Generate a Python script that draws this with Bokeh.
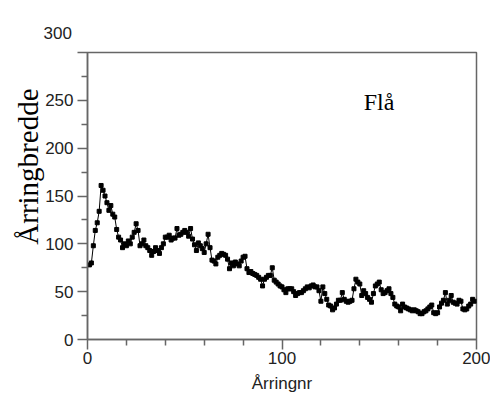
from bokeh.plotting import figure
from bokeh.models import Range1d, FixedTicker, Label, Title
from bokeh.embed import file_html
from bokeh.resources import INLINE

years = list(range(1, 200))
widths = [
    78, 80, 98, 114, 122, 134, 161, 156, 150, 143,
    135, 140, 131, 128, 115, 107, 104, 96, 100, 98,
    103, 100, 107, 112, 121, 114, 98, 100, 104, 98,
    96, 93, 88, 92, 96, 93, 90, 96, 100, 107,
    107, 109, 104, 106, 106, 116, 109, 110, 112, 114,
    112, 108, 116, 105, 99, 93, 101, 98, 95, 91,
    100, 110, 96, 83, 82, 79, 86, 88, 90, 89,
    88, 84, 74, 80, 77, 81, 79, 77, 82, 86,
    87, 74, 70, 71, 69, 68, 67, 65, 63, 56,
    63, 65, 67, 67, 75, 62, 60, 58, 56, 55,
    52, 49, 53, 53, 53, 50, 46, 48, 49, 49,
    51, 53, 55, 54, 56, 57, 55, 55, 51, 40,
    55, 48, 42, 36, 35, 31, 33, 37, 41, 41,
    49, 42, 40, 39, 40, 41, 53, 63, 60, 58,
    46, 51, 48, 44, 42, 39, 48, 56, 58, 60,
    52, 48, 49, 51, 53, 48, 44, 37, 35, 34,
    30, 37, 34, 33, 32, 31, 30, 31, 30, 29,
    27, 27, 29, 30, 32, 34, 36, 28, 27, 28,
    34, 38, 41, 49, 37, 41, 46, 39, 38, 37,
    41, 40, 32, 31, 32, 35, 37, 42, 40,
]
x_major = [0, 100, 200]
x_minor = [20, 40, 60, 80, 120, 140, 160, 180]
y_major = [0, 50, 100, 150, 200, 250, 300]
y_minor = [25, 75, 125, 175, 225, 275]

p = figure(width=490, height=399, output_backend="svg", toolbar_location=None,
           x_range=Range1d(0, 200), y_range=Range1d(0, 300),
           min_border_left=87, min_border_right=14, min_border_top=52, min_border_bottom=60)
p.grid.visible = False
p.background_fill_color = "white"
p.border_fill_color = "white"
p.outline_line_color = "#666666"
p.outline_line_width = 1.5

frame_col = "#666666"
for ax in (p.xaxis[0], p.yaxis[0]):
    ax.axis_line_color = frame_col
    ax.axis_line_width = 1.5
    ax.major_tick_line_color = frame_col
    ax.minor_tick_line_color = frame_col
    ax.major_tick_line_width = 1.5
    ax.minor_tick_line_width = 1.5
    ax.major_tick_in = 0
    ax.minor_tick_in = 0
    ax.major_tick_out = 10
    ax.minor_tick_out = 6
    ax.major_label_text_font = "Liberation Sans"
    ax.major_label_text_font_size = "17px"
    ax.major_label_text_color = "#222222"

p.xaxis[0].ticker = FixedTicker(ticks=x_major, minor_ticks=x_minor)
p.yaxis[0].ticker = FixedTicker(ticks=y_major, minor_ticks=y_minor)
p.yaxis[0].major_label_overrides = {300: ""}
p.xaxis[0].major_label_standoff = 2
p.yaxis[0].major_label_standoff = 4
p.xaxis[0].axis_label = "Årringnr"
p.xaxis[0].axis_label_text_font = "Liberation Sans"
p.xaxis[0].axis_label_text_font_size = "17px"
p.xaxis[0].axis_label_text_font_style = "normal"
p.xaxis[0].axis_label_text_color = "#222222"
p.xaxis[0].axis_label_standoff = 7

p.line(years, widths, line_color="black", line_width=1)
p.scatter(years, widths, marker="square", size=4, fill_color="black", line_color="black")

ylab = Title(text="Årringbredde", align="right", offset=36, standoff=-3,
             text_font="Liberation Serif", text_font_size="29px",
             text_font_style="normal", text_color="black")
p.add_layout(ylab, "left")

p.title.text = "300"
p.title.align = "left"
p.title.offset = -44
p.title.standoff = 27
p.title.text_font = "Liberation Sans"
p.title.text_font_size = "17px"
p.title.text_font_style = "normal"
p.title.text_color = "#222222"

p.add_layout(Label(x=142, y=248, text="Flå",
                   text_font="Liberation Serif", text_font_size="24px",
                   text_align="left", text_baseline="middle", text_color="black"))

open("out.html", "w").write(file_html(p, INLINE))
